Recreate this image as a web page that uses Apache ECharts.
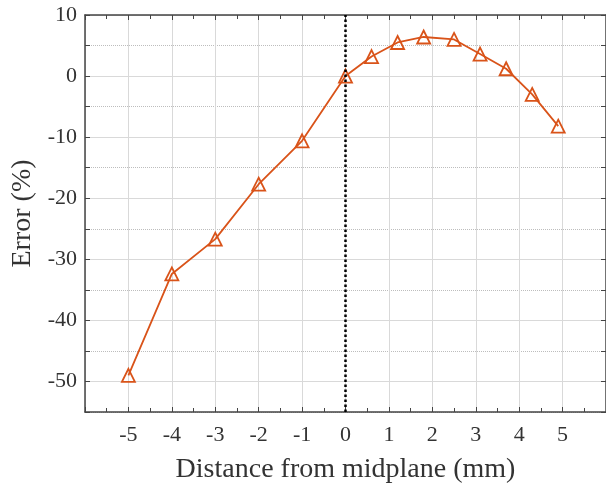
<!DOCTYPE html>
<html>
<head>
<meta charset="utf-8">
<script src="https://cdn.jsdelivr.net/npm/echarts@6/dist/echarts.min.js"></script>
<style>
  html, body { margin: 0; padding: 0; background: #fff; }
  #chart { width: 606px; height: 483px; }
</style>
</head>
<body>
<div id="chart"></div>
<script>
// data
var distance = [-5, -4, -3, -2, -1, 0, 0.6, 1.2, 1.8, 2.5, 3.1, 3.7, 4.3, 4.9];
var errorPct = [-49, -32.4, -26.7, -17.7, -10.6, 0, 3.2, 5.5, 6.4, 6.0, 3.6, 1.2, -3.0, -8.2];
var midplane = 0;

var font = 'Liberation Serif';
var axisColor = '#444';

initChart();

function initChart() {
  var dom = document.getElementById('chart');
  var myChart = echarts.init(dom);
  var points = distance.map(function (d, i) { return [d, errorPct[i]]; });

  var option = {
    animation: false,
    grid: {
      left: 85,
      right: 0,
      top: 15,
      bottom: 71,
      outerBoundsMode: 'none'
    },
    xAxis: [{
      type: 'value',
      min: -6,
      max: 6,
      interval: 1,
      name: 'Distance from midplane (mm)',
      nameLocation: 'middle',
      nameGap: 44,
      nameTextStyle: { fontFamily: font, fontSize: 28, color: '#333' },
      axisLine: { show: true, onZero: false, lineStyle: { color: axisColor, width: 1.5 } },
      axisTick: { inside: true, length: 5, lineStyle: { color: axisColor } },
      minorTick: { show: true, splitNumber: 2, length: 4, lineStyle: { color: axisColor } },
      axisLabel: {
        margin: 12,
        fontFamily: font,
        fontSize: 22,
        color: '#333',
        formatter: function (v) { return (v <= -6 || v >= 6) ? '' : v; }
      },
      splitLine: { show: true, lineStyle: { color: '#d9d9d9', width: 1 } }
    }, {
      type: 'value',
      position: 'top',
      min: -6,
      max: 6,
      interval: 1,
      axisLine: { show: true, onZero: false, lineStyle: { color: axisColor, width: 1.5 } },
      axisTick: { inside: true, length: 5, lineStyle: { color: axisColor } },
      minorTick: { show: true, splitNumber: 2, length: 4, lineStyle: { color: axisColor } },
      axisLabel: { show: false },
      splitLine: { show: false }
    }],
    yAxis: [{
      // every 5: dotted minor grid, labels only on tens
      type: 'value',
      min: -55,
      max: 10,
      interval: 5,
      name: 'Error (%)',
      nameLocation: 'middle',
      nameGap: 48,
      nameTextStyle: { fontFamily: font, fontSize: 28, color: '#333' },
      axisLine: { show: true, onZero: false, lineStyle: { color: axisColor, width: 1.5 } },
      axisTick: { inside: true, length: 5, lineStyle: { color: axisColor } },
      axisLabel: {
        margin: 8,
        fontFamily: font,
        fontSize: 22,
        color: '#333',
        formatter: function (v) { return (v % 10 === 0) ? v : ''; }
      },
      splitLine: { show: true, lineStyle: { color: ['#bdbdbd', 'rgba(0,0,0,0)'], type: 'dotted', width: 1 } }
    }, {
      // right side: mirrored ticks + solid major grid on tens
      type: 'value',
      position: 'right',
      min: -55,
      max: 10,
      interval: 5,
      axisLine: { show: true, onZero: false, lineStyle: { color: axisColor, width: 1.5 } },
      axisTick: { inside: true, length: 5, lineStyle: { color: axisColor } },
      axisLabel: { show: false },
      splitLine: { show: true, lineStyle: { color: ['rgba(0,0,0,0)', '#d9d9d9'], width: 1 } }
    }],
    series: [{
      type: 'line',
      data: points,
      symbol: 'triangle',
      symbolSize: 13,
      showAllSymbol: true,
      lineStyle: { color: '#d95319', width: 1.8 },
      itemStyle: { color: 'rgba(255,255,255,0)', borderColor: '#d95319', borderWidth: 1.8 },
      z: 3,
      markLine: {
        silent: true,
        symbol: 'none',
        label: { show: false },
        lineStyle: { color: '#000', type: 'dotted', width: 2.5 },
        data: [{ xAxis: midplane }]
      }
    }]
  };

  if (option && typeof option === 'object') {
    myChart.setOption(option, true);
    window.onresize = myChart.resize;
  }
}
</script>
</body>
</html>
